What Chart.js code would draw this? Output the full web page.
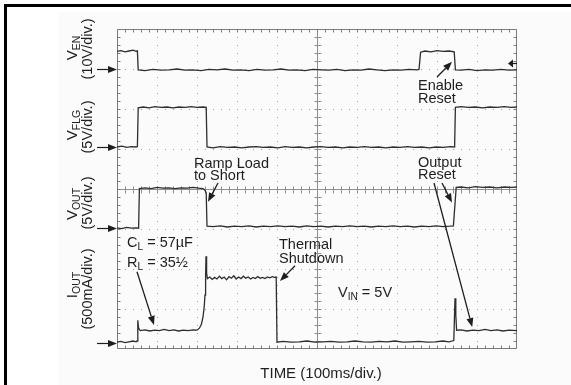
<!DOCTYPE html>
<html>
<head>
<meta charset="utf-8">
<script src="https://cdn.jsdelivr.net/npm/chart.js@4/dist/chart.umd.min.js"></script>
<style>
  html, body { margin: 0; padding: 0; background: #fff; }
  canvas { display: block; }
</style>
</head>
<body>
<canvas id="scope" width="571" height="385"></canvas>
<script>
// time in ms (100 ms/div), level in screen divisions counted from the bottom
const venTrace = [
  [0,7.44],[10,7.46],[20,7.43],[30,7.45],[40,7.47],[48,7.44],[51,7.45],[53,6.98],
  [70,6.96],[90,6.99],[110,6.97],[130,6.98],[150,7.00],[170,6.97],[190,6.98],[210,6.96],
  [230,6.99],[250,6.98],[270,7.00],[290,6.97],[310,6.98],[330,6.96],[350,6.99],[370,6.97],
  [390,6.98],[410,7.00],[430,6.97],[450,6.98],[470,6.96],[490,6.99],[510,6.98],[530,6.97],
  [550,6.99],[570,6.96],[590,6.98],[610,6.97],[630,7.00],[650,6.98],[670,6.96],[690,6.98],
  [710,6.97],[730,6.99],[750,6.98],[755,6.99],[759,7.42],[770,7.45],[785,7.43],[800,7.46],
  [815,7.44],[830,7.45],[843,7.43],[846,6.98],[860,6.97],[880,6.99],[900,6.96],[920,6.98],
  [940,6.97],[960,6.99],[980,6.97],[1000,6.98]
];
const flgTrace = [
  [0,5.05],[12,5.07],[24,5.04],[36,5.06],[48,5.05],[51,5.06],[53,6.03],[66,6.05],
  [80,6.03],[95,6.06],[110,6.04],[125,6.05],[140,6.03],[155,6.05],[170,6.04],[185,6.06],
  [200,6.04],[215,6.05],[223,6.04],[225,5.05],[240,5.03],[258,5.06],[276,5.04],[294,5.05],
  [312,5.03],[330,5.05],[348,5.06],[366,5.04],[384,5.05],[402,5.03],[420,5.06],[438,5.04],
  [456,5.05],[474,5.03],[492,5.05],[510,5.06],[528,5.04],[546,5.05],[564,5.03],[582,5.05],
  [600,5.04],[618,5.06],[636,5.04],[654,5.05],[672,5.03],[690,5.05],[708,5.04],[726,5.06],
  [744,5.04],[762,5.05],[780,5.03],[798,5.05],[816,5.04],[834,5.06],[844,5.05],[846,6.04],
  [860,6.06],[878,6.04],[896,6.05],[914,6.03],[932,6.05],[950,6.04],[968,6.06],[986,6.04],
  [1000,6.05]
];
const voutTrace = [
  [0,3.03],[12,3.01],[24,3.04],[36,3.02],[48,3.03],[54,3.02],[56,4.01],[70,4.03],
  [85,4.01],[100,4.04],[115,4.02],[130,4.03],[145,4.01],[160,4.03],[175,4.02],[190,4.04],
  [205,4.02],[215,4.01],[220,3.97],[223,3.90],[225,3.07],[240,3.06],[258,3.08],[276,3.05],
  [294,3.07],[312,3.06],[330,3.08],[348,3.05],[366,3.07],[384,3.06],[402,3.08],[420,3.06],
  [438,3.07],[456,3.05],[474,3.08],[492,3.06],[510,3.07],[528,3.05],[546,3.07],[564,3.06],
  [582,3.08],[600,3.06],[618,3.07],[636,3.05],[654,3.07],[672,3.06],[690,3.08],[708,3.06],
  [726,3.07],[744,3.05],[762,3.07],[780,3.06],[798,3.08],[816,3.06],[832,3.07],[841,3.08],
  [848,4.04],[860,4.05],[878,4.03],[896,4.06],[914,4.04],[932,4.05],[950,4.03],[968,4.05],
  [986,4.04],[1000,4.05]
];
const ioutTrace = [
  [0,0.17],[10,0.19],[20,0.16],[30,0.18],[40,0.20],[48,0.18],[50,0.20],[52,0.72],
  [54,0.52],[58,0.46],[70,0.48],[82,0.45],[94,0.47],[106,0.46],[118,0.49],[130,0.46],
  [142,0.48],[154,0.45],[166,0.47],[178,0.46],[190,0.48],[200,0.47],[206,0.52],[211,0.62],
  [215,0.80],[218,1.05],[220,1.35],[221.5,1.80],[222.5,2.32],[224,1.90],[226,1.76],[232,1.80],
  [238,1.74],[244,1.79],[250,1.75],[256,1.82],[262,1.76],[268,1.80],[274,1.73],[280,1.81],
  [286,1.77],[292,1.83],[298,1.75],[304,1.80],[310,1.76],[316,1.82],[322,1.77],[328,1.80],
  [334,1.75],[340,1.79],[346,1.76],[352,1.81],[358,1.77],[364,1.79],[370,1.76],[376,1.80],
  [382,1.78],[388,1.81],[394,1.79],[398,1.80],[400,0.17],[415,0.19],[435,0.17],[455,0.18],
  [475,0.20],[495,0.17],[515,0.18],[535,0.19],[555,0.17],[575,0.18],[595,0.20],[615,0.18],
  [635,0.17],[655,0.19],[675,0.18],[695,0.20],[715,0.17],[735,0.18],[755,0.19],[775,0.17],
  [795,0.18],[815,0.20],[830,0.18],[842,0.21],[845,1.27],[847,0.85],[849,0.47],[860,0.48],
  [875,0.45],[890,0.47],[905,0.46],[920,0.49],[935,0.46],[950,0.48],[965,0.45],[980,0.47],
  [1000,0.46]
];

// ground reference of each channel (divisions)
const channelZero = [7.0, 5.06, 3.03, 0.15];
const channelNames = [['V', 'EN'], ['V', 'FLG'], ['V', 'OUT'], ['I', 'OUT']];
const channelScales = ['(10V/div.)', '(5V/div.)', '(5V/div.)', '(500mA/div.)'];
const timeLabel = 'TIME (100ms/div.)';

const FONT = '"Liberation Sans", Arial, sans-serif';
const INK = '#1e1e1e';

function arrow(ctx, x1, y1, x2, y2, len, half) {
  const ang = Math.atan2(y2 - y1, x2 - x1);
  const bx = x2 - Math.cos(ang) * len, by = y2 - Math.sin(ang) * len;
  ctx.beginPath();
  ctx.moveTo(x1, y1);
  ctx.lineTo(bx, by);
  ctx.stroke();
  ctx.beginPath();
  ctx.moveTo(x2, y2);
  ctx.lineTo(bx + Math.sin(ang) * half, by - Math.cos(ang) * half);
  ctx.lineTo(bx - Math.sin(ang) * half, by + Math.cos(ang) * half);
  ctx.closePath();
  ctx.fill();
}

// text with a subscript part: [main, sub, rest]
function subText(ctx, x, y, main, sub, rest, size) {
  ctx.font = size + 'px ' + FONT;
  ctx.fillText(main, x, y);
  x += ctx.measureText(main).width;
  ctx.font = (size * 0.7) + 'px ' + FONT;
  ctx.fillText(sub, x, y + 3);
  x += ctx.measureText(sub).width;
  if (rest) {
    ctx.font = size + 'px ' + FONT;
    ctx.fillText(rest, x, y);
  }
}

function subWidth(ctx, main, sub, size) {
  ctx.font = size + 'px ' + FONT;
  let w = ctx.measureText(main).width;
  ctx.font = (size * 0.7) + 'px ' + FONT;
  return w + ctx.measureText(sub).width;
}

const graticule = {
  id: 'graticule',
  beforeDatasetsDraw(chart) {
    const { ctx, chartArea: a, scales: { x, y } } = chart;
    ctx.save();
    const xs = [], ys = [];
    for (let i = 0; i <= 50; i++) xs.push(Math.round(x.getPixelForValue(i * 20)));
    for (let j = 0; j <= 40; j++) ys.push(Math.round(y.getPixelForValue(j * 0.2)));

    // dotted divisions
    ctx.fillStyle = '#a0a0a0';
    for (let i = 5; i < 50; i += 5) {
      if (i === 25) continue;
      for (let j = 1; j < 40; j++) ctx.fillRect(xs[i], ys[j], 1, 1);
    }
    for (let j = 5; j < 40; j += 5) {
      if (j === 20) continue;
      for (let i = 1; i < 50; i++) ctx.fillRect(xs[i], ys[j], 1, 1);
    }

    // centre cross with minor ticks
    const cx = xs[25] + 0.5, cy = ys[20] + 0.5;
    ctx.strokeStyle = '#909090';
    ctx.lineWidth = 1;
    ctx.beginPath();
    ctx.moveTo(cx, a.top); ctx.lineTo(cx, a.bottom);
    ctx.moveTo(a.left, cy); ctx.lineTo(a.right, cy);
    for (let j = 1; j < 40; j++) { ctx.moveTo(cx - 3, ys[j] + 0.5); ctx.lineTo(cx + 4, ys[j] + 0.5); }
    for (let i = 1; i < 50; i++) { ctx.moveTo(xs[i] + 0.5, cy - 3); ctx.lineTo(xs[i] + 0.5, cy + 4); }
    ctx.stroke();

    // frame with inward ticks
    const l = a.left + 0.5, r = a.right - 0.5, t = a.top + 0.5, b = a.bottom - 0.5;
    ctx.strokeStyle = '#7a7a7a';
    ctx.beginPath();
    ctx.rect(l, t, r - l, b - t);
    for (let i = 1; i < 50; i++) {
      ctx.moveTo(xs[i] + 0.5, t); ctx.lineTo(xs[i] + 0.5, t + 3);
      ctx.moveTo(xs[i] + 0.5, b); ctx.lineTo(xs[i] + 0.5, b - 3);
    }
    for (let j = 1; j < 40; j++) {
      ctx.moveTo(l, ys[j] + 0.5); ctx.lineTo(l + 3, ys[j] + 0.5);
      ctx.moveTo(r, ys[j] + 0.5); ctx.lineTo(r - 3, ys[j] + 0.5);
    }
    ctx.stroke();
    ctx.restore();
  }
};

const notes = {
  id: 'notes',
  beforeDraw(chart) {
    const { ctx } = chart;
    ctx.save();
    ctx.fillStyle = '#fbfbfb';
    ctx.fillRect(58, 12, 513, 373);
    ctx.fillStyle = '#000';
    ctx.fillRect(4, 4, 567, 3);
    ctx.fillRect(4, 4, 3, 381);
    ctx.restore();
  },
  afterDatasetsDraw(chart) {
    const { ctx, chartArea: a, scales: { x, y } } = chart;
    const px = v => x.getPixelForValue(v), py = v => y.getPixelForValue(v);
    ctx.save();
    ctx.fillStyle = INK;
    ctx.strokeStyle = INK;
    ctx.lineWidth = 1.2;

    // channel ground markers
    channelZero.forEach(z => arrow(ctx, a.left - 20, Math.round(py(z)) + 0.5, a.left, Math.round(py(z)) + 0.5, 9, 3.5));
    // trigger level marker
    const ty = Math.round(py(7.15)) + 0.5;
    arrow(ctx, a.right, ty, a.right - 9, ty, 5, 4);

    // channel labels, rotated
    const centres = [[48, 49], [125, 127], [204, 203], [285, 289]];
    channelNames.forEach((n, k) => {
      ctx.save();
      ctx.translate(77, centres[k][0]);
      ctx.rotate(-Math.PI / 2);
      const w = subWidth(ctx, n[0], n[1], 15);
      subText(ctx, -w / 2, 0, n[0], n[1], '', 15);
      ctx.restore();
      ctx.save();
      ctx.translate(92, centres[k][1]);
      ctx.rotate(-Math.PI / 2);
      ctx.font = '14.5px ' + FONT;
      ctx.textAlign = 'center';
      ctx.fillText(channelScales[k], 0, 0);
      ctx.restore();
    });

    // annotations
    ctx.font = '14.5px ' + FONT;
    ctx.textAlign = 'left';
    ctx.fillText('Ramp Load', 194, 168);
    ctx.fillText('to Short', 194, 180);
    ctx.fillText('Enable', 418, 90);
    ctx.fillText('Reset', 418, 103);
    ctx.fillText('Output', 418, 167);
    ctx.fillText('Reset', 418, 179);
    ctx.fillText('Thermal', 279, 249);
    ctx.fillText('Shutdown', 279, 263);
    subText(ctx, 127, 247, 'C', 'L', ' = 57µF', 14.5);
    subText(ctx, 127, 267, 'R', 'L', ' = 35½', 14.5);
    subText(ctx, 338, 297, 'V', 'IN', ' = 5V', 14.5);
    ctx.font = '15px ' + FONT;
    ctx.textAlign = 'center';
    ctx.fillText(timeLabel, 321, 378);

    const pointers = [
      [252.5, 4.15, 227.5, 3.68],
      [800, 6.8, 837.5, 7.18],
      [812.5, 4.15, 837.5, 3.66],
      [792.5, 4.15, 888, 0.55],
      [50, 1.93, 92.5, 0.6],
      [445, 2.08, 407.5, 1.7]
    ];
    ctx.lineWidth = 1.3;
    pointers.forEach(p => arrow(ctx, px(p[0]), py(p[1]), px(p[2]), py(p[3]), 9, 3.5));
    ctx.restore();
  }
};

const toPoints = tr => tr.map(([t, v]) => ({ x: t, y: v }));
const traceStyle = { showLine: true, pointRadius: 0, borderWidth: 1.3, borderColor: '#2e2e2e', tension: 0, fill: false };

new Chart(document.getElementById('scope'), {
  type: 'scatter',
  data: {
    datasets: [
      { label: 'VEN', data: toPoints(venTrace), ...traceStyle },
      { label: 'VFLG', data: toPoints(flgTrace), ...traceStyle },
      { label: 'VOUT', data: toPoints(voutTrace), ...traceStyle },
      { label: 'IOUT', data: toPoints(ioutTrace), ...traceStyle }
    ]
  },
  options: {
    responsive: false,
    devicePixelRatio: 1,
    animation: false,
    layout: { padding: { left: 117, right: 54, top: 29, bottom: 36 } },
    plugins: { legend: { display: false }, tooltip: { enabled: false } },
    scales: {
      x: { type: 'linear', min: 0, max: 1000, display: false },
      y: { type: 'linear', min: 0, max: 8, display: false }
    }
  },
  plugins: [graticule, notes]
});
</script>
</body>
</html>
